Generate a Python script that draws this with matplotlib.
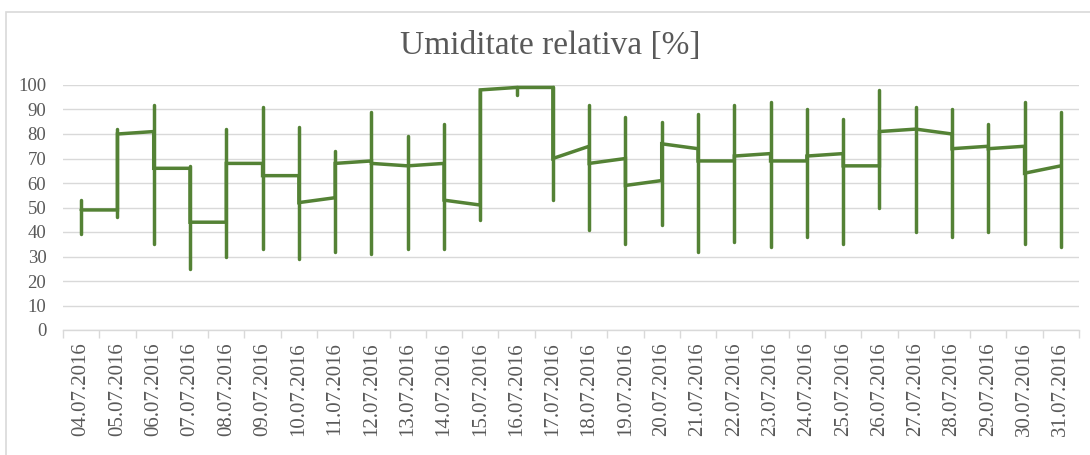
import matplotlib
matplotlib.use("Agg")
import matplotlib.pyplot as plt
from matplotlib.patches import Rectangle
import numpy as np

dates = ["04.07.2016", "05.07.2016", "06.07.2016", "07.07.2016", "08.07.2016",
         "09.07.2016", "10.07.2016", "11.07.2016", "12.07.2016", "13.07.2016",
         "14.07.2016", "15.07.2016", "16.07.2016", "17.07.2016", "18.07.2016",
         "19.07.2016", "20.07.2016", "21.07.2016", "22.07.2016", "23.07.2016",
         "24.07.2016", "25.07.2016", "26.07.2016", "27.07.2016", "28.07.2016",
         "29.07.2016", "30.07.2016", "31.07.2016"]

highs = [53, 82, 92, 67, 82, 91, 83, 73, 89, 79, 84, 98, 99, 99, 92, 87, 85, 88,
         92, 93, 90, 86, 98, 91, 90, 84, 93, 89]
lows = [39, 46, 35, 25, 30, 33, 29, 32, 31, 33, 33, 45, 96, 53, 41, 35, 43, 32,
        36, 34, 38, 35, 50, 40, 38, 40, 35, 34]

# segment from each day to the next: value at start day, value at next day
seg_start = [49, 80, 66, 44, 68, 63, 52, 68, 68, 67, 53, 98, 99, 70, 68, 59, 76,
             69, 71, 69, 71, 67, 81, 82, 74, 74, 64]
seg_end = [49, 81, 66, 44, 68, 63, 54, 69, 67, 68, 51, 99, 99, 75, 70, 61, 74,
           69, 72, 69, 72, 67, 82, 80, 75, 75, 67]

GREEN = "#548235"
GRID = "#D9D9D9"
TXT = "#595959"
SERIF = ["Liberation Serif", "DejaVu Serif"]

fig = plt.figure(figsize=(10.9, 4.55), dpi=100)
W, H = 1090, 455
left, right, top, bottom = 63, 1079, 85, 330
ax = fig.add_axes([left / W, 1 - bottom / H, (right - left) / W, (bottom - top) / H])

n = len(dates)
x = np.arange(n)

# line path with jumps at each day
px, py = [], []
for i in range(n - 1):
    px += [x[i], x[i + 1]]
    py += [seg_start[i], seg_end[i]]
ax.plot(px, py, color=GREEN, lw=2.5, solid_capstyle="round",
        solid_joinstyle="miter", zorder=3)
ax.vlines(x, lows, highs, color=GREEN, lw=2.5, capstyle="round", zorder=3)

ax.set_xlim(-0.5, n - 0.5)
ax.set_ylim(0, 100)
ax.set_yticks(np.arange(0, 101, 10))
ax.grid(axis="y", color=GRID, lw=1.0)
ax.set_axisbelow(True)
for s in ["left", "right", "top"]:
    ax.spines[s].set_visible(False)
ax.spines["bottom"].set_color(GRID)
ax.spines["bottom"].set_linewidth(1.0)

ax.set_xticks(x)
ax.set_xticklabels(dates, rotation=90, fontfamily=SERIF, fontsize=15, color=TXT)
ax.set_xticks(np.arange(-0.5, n, 1.0), minor=True)
ax.tick_params(axis="x", which="major", length=0, pad=9)
ax.tick_params(axis="x", which="minor", length=6, color=GRID, width=1.0)
ax.tick_params(axis="y", length=0, pad=12, labelcolor=TXT, labelsize=13.5)
for lab in ax.get_yticklabels():
    lab.set_fontfamily(SERIF)

fig.text(550 / W, 1 - 46 / H, "Umiditate relativa [%]",
         ha="center", va="center", fontfamily=SERIF, fontsize=24, color=TXT)

fig.add_artist(Rectangle((6 / W, -0.2), 2.0, 1 - 12 / H + 0.2,
                         transform=fig.transFigure, fill=False,
                         edgecolor=GRID, lw=1.2))

fig.savefig("out.png", dpi=100, facecolor="white")
